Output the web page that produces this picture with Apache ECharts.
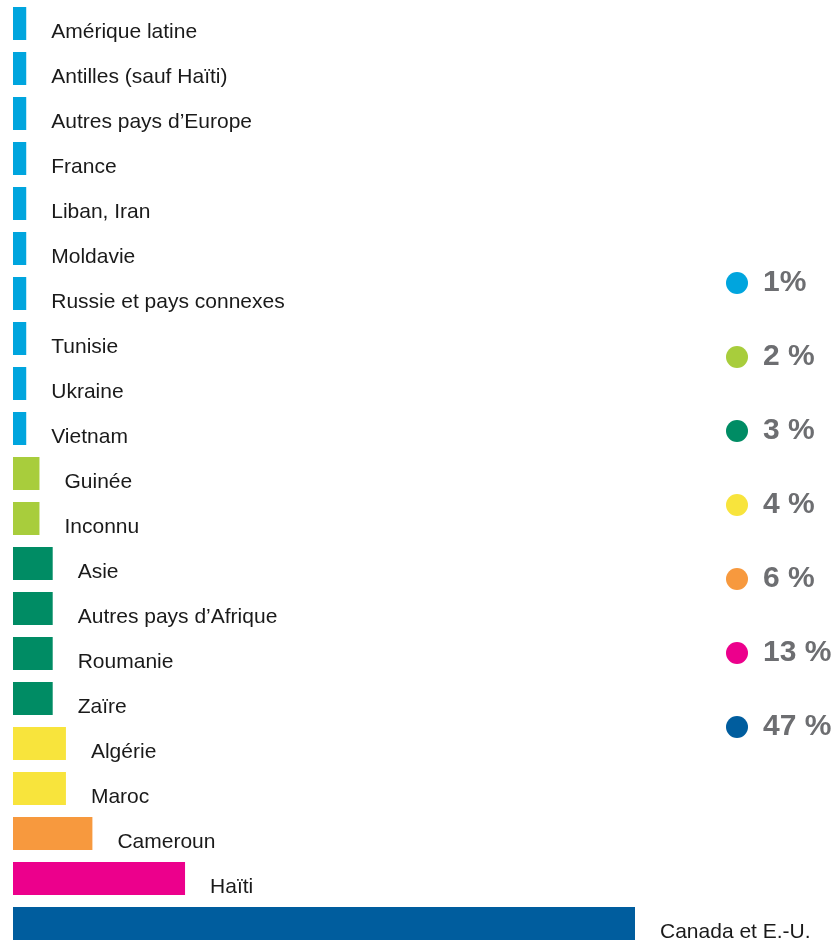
<!DOCTYPE html>
<html>
<head>
<meta charset="utf-8">
<script src="https://cdn.jsdelivr.net/npm/echarts@6/dist/echarts.min.js"></script>
<style>html,body{margin:0;padding:0;background:#fff;overflow:hidden;}#c{width:836px;height:950px;}</style>
</head>
<body>
<div id="c"></div>
<script>
const categories = ["Amérique latine","Antilles (sauf Haïti)","Autres pays d’Europe","France","Liban, Iran","Moldavie","Russie et pays connexes","Tunisie","Ukraine","Vietnam","Guinée","Inconnu","Asie","Autres pays d’Afrique","Roumanie","Zaïre","Algérie","Maroc","Cameroun","Haïti","Canada et E.-U."];
const values = [1,1,1,1,1,1,1,1,1,1,2,2,3,3,3,3,4,4,6,13,47];
const groups = [1,2,3,4,6,13,47];
const groupLabels = ["1%","2 %","3 %","4 %","6 %","13 %","47 %"];
const groupColors = ["#00a5de","#a8cd3c","#008c64","#f8e43c","#f7993e","#ec008c","#005d9e"];

const chart = echarts.init(document.getElementById('c'), null, {renderer:'canvas'});
const series = groups.map((g, i) => ({
  name: groupLabels[i],
  type: 'bar',
  stack: 'all',
  barWidth: 33,
  itemStyle: {color: groupColors[i]},
  label: {
    show: true,
    position: 'right',
    distance: 25,
    offset: [0, 9],
    formatter: '{b}',
    color: '#1a1a1a',
    fontSize: 21,
    fontFamily: 'Liberation Sans, Arial, sans-serif'
  },
  data: values.map(v => v === g ? v : '-')
}));

chart.setOption({
  animation: false,
  backgroundColor: '#ffffff',
  grid: {left: 13, top: 1, width: 622, height: 945},
  xAxis: {type: 'value', min: 0, max: 47, show: false},
  yAxis: {type: 'category', data: categories, inverse: true, show: false},
  legend: {
    orient: 'vertical',
    left: 721,
    top: 263,
    icon: 'circle',
    itemWidth: 22,
    itemHeight: 22,
    itemGap: 44,
    selectedMode: false,
    data: groupLabels,
    textStyle: {
      color: '#6d6e71',
      fontSize: 30,
      lineHeight: 30,
      fontWeight: 'bold',
      fontFamily: 'Liberation Sans, Arial, sans-serif',
      padding: [0, 0, 0, 10]
    }
  },
  series: series
});
</script>
</body>
</html>
